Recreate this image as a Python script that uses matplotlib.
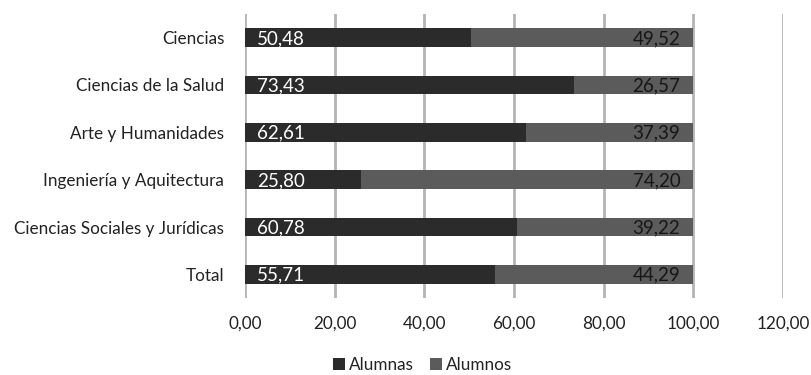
import matplotlib
matplotlib.use("Agg")
import matplotlib.pyplot as plt
from matplotlib.ticker import FuncFormatter

categories = ["Ciencias", "Ciencias de la Salud", "Arte y Humanidades",
              "Ingeniería y Aquitectura", "Ciencias Sociales y Jurídicas", "Total"]
alumnas = [50.48, 73.43, 62.61, 25.80, 60.78, 55.71]
alumnos = [49.52, 26.57, 37.39, 74.20, 39.22, 44.29]
x_ticks = [0, 20, 40, 60, 80, 100, 120]

plt.rcParams["font.family"] = ["Lato", "DejaVu Sans"]

fig = plt.figure(figsize=(8.12, 3.75), dpi=100)
ax = fig.add_axes([0.3017, 0.2053, 0.6626, 0.7574])

dark = "#2b2b2b"
mid = "#5b5b5b"
y = list(range(len(categories)))
h = 0.40
ax.barh(y, alumnas, height=h, color=dark, label="Alumnas", zorder=3)
ax.barh(y, alumnos, left=alumnas, height=h, color=mid, label="Alumnos", zorder=3)


def fmt(v):
    return f"{v:.2f}".replace(".", ",")


for yi, a, b in zip(y, alumnas, alumnos):
    ax.annotate(fmt(a), (0, yi), xytext=(12, -1), textcoords="offset pixels",
                ha="left", va="center", color="white", fontsize=13.5, zorder=4)
    ax.annotate(fmt(b), (a + b, yi), xytext=(-13, -1), textcoords="offset pixels",
                ha="right", va="center", color="#161616", fontsize=13.5, zorder=4)

ax.set_xlim(0, 120)
ax.set_ylim(len(categories) - 0.5, -0.5)
ax.set_xticks(x_ticks)
ax.xaxis.set_major_formatter(FuncFormatter(lambda v, p: fmt(v)))
ax.set_yticks(y)
ax.set_yticklabels(categories)
ax.tick_params(axis="both", length=0, labelsize=12.3, colors="#222222")
ax.tick_params(axis="y", pad=15)
ax.tick_params(axis="x", pad=13)
for s in ax.spines.values():
    s.set_visible(False)
ax.grid(axis="x", color="#b4b4b4", linewidth=2, zorder=0)

ax.legend(loc="center", bbox_to_anchor=(0.33, -0.237), ncol=2, frameon=False,
          fontsize=12.3, handlelength=0.7, handleheight=0.7, handletextpad=0.2,
          columnspacing=1.0, labelcolor="#222222", borderpad=0.1)

fig.savefig("out.png", dpi=100)
